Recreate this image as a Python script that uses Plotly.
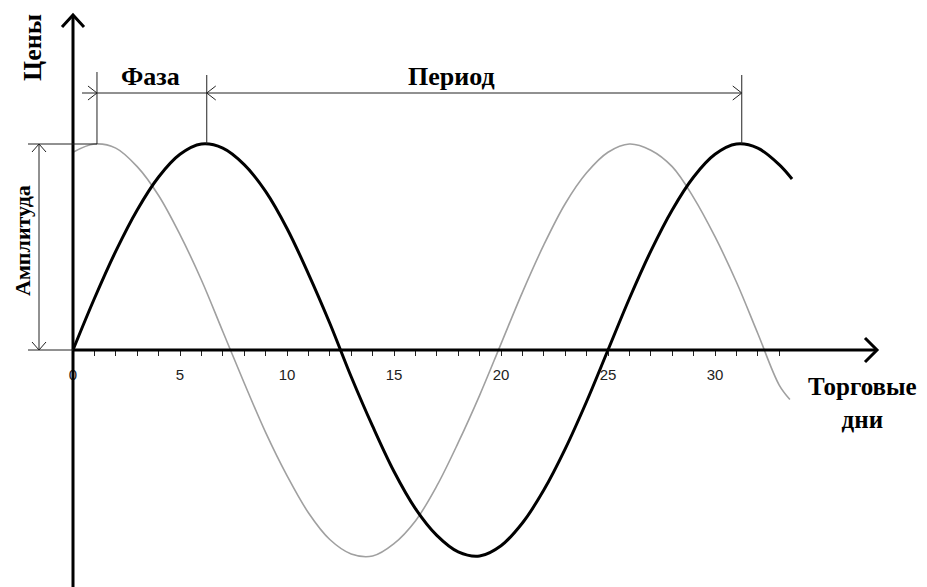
import plotly.graph_objects as go

# --- данные (амплитуда = 1) ---
days_main = list(range(34)) + [33.6]
price_main = [0.00, 0.25, 0.48, 0.68, 0.84, 0.95, 1.00, 0.98, 0.90, 0.77,
              0.59, 0.37, 0.13, -0.13, -0.37, -0.59, -0.77, -0.90, -0.98, -1.00,
              -0.95, -0.84, -0.68, -0.48, -0.25, 0.00, 0.25, 0.48, 0.68, 0.84,
              0.95, 1.00, 0.98, 0.90, 0.83]

days_shift = list(range(34)) + [33.5]
price_shift = [0.96, 1.00, 0.98, 0.89, 0.75, 0.56, 0.34, 0.09, -0.16, -0.40,
               -0.61, -0.79, -0.92, -0.99, -1.00, -0.94, -0.83, -0.66, -0.45, -0.22,
               0.03, 0.28, 0.51, 0.71, 0.86, 0.96, 1.00, 0.97, 0.89, 0.74,
               0.55, 0.33, 0.08, -0.17, -0.24]

tick_days = list(range(34))
tick_labels = [str(d) if d % 5 == 0 else '' for d in tick_days]

phase_start = 1.12   # вершина серой кривой
period_start = 6.25  # вершина чёрной кривой
period_end = 31.25   # следующая вершина
amplitude = 1.0

# --- геометрия картинки ---
W, H = 927, 587
PAGE = 8             # отступ body в странице
PX_DAY = 21.4        # пикселей на день
PX_UNIT = 206        # пикселей на единицу амплитуды
X0, Y0 = 73, 350     # начало координат в пикселях окна

X_RANGE = [-(X0 - PAGE) / PX_DAY, (W - X0 + PAGE) / PX_DAY]
Y_RANGE = [-(H - Y0 + PAGE) / PX_UNIT, (Y0 - PAGE) / PX_UNIT]


def dx(px):
    return (px - X0) / PX_DAY


def dy(py):
    return (Y0 - py) / PX_UNIT


fig = go.Figure()
fig.add_trace(go.Scatter(x=days_shift, y=price_shift, mode='lines',
                         line=dict(color='#a0a0a0', width=1.6, shape='spline'),
                         hoverinfo='skip'))
fig.add_trace(go.Scatter(x=days_main, y=price_main, mode='lines',
                         line=dict(color='black', width=3, shape='spline'),
                         hoverinfo='skip'))

shapes = []


def line(x0, y0, x1, y1, w=1, color='#222'):
    shapes.append(dict(type='line', xref='x', yref='y', x0=x0, y0=y0, x1=x1, y1=y1,
                       line=dict(color=color, width=w)))


def head(x, y, direction, back, half, w=1, color='#222'):
    paths = {
        'right': f'M {-back},{half} L 0,0 L {-back},{-half}',
        'left': f'M {back},{half} L 0,0 L {back},{-half}',
        'up': f'M {-half},{-back} L 0,0 L {half},{-back}',
        'down': f'M {-half},{back} L 0,0 L {half},{back}',
    }
    shapes.append(dict(type='path', xref='x', yref='y', xsizemode='pixel', ysizemode='pixel',
                       xanchor=x, yanchor=y, path=paths[direction],
                       line=dict(color=color, width=w)))


# оси
x_tip, y_tip = dx(877), dy(15)
line(0, 0, x_tip, 0, w=3, color='black')
line(0, Y_RANGE[0], 0, y_tip, w=3, color='black')
head(x_tip, 0, 'right', 12, 12, w=3, color='black')
head(0, y_tip, 'up', 12, 11, w=3, color='black')

# фаза и период
dim_y = dy(93)
line(phase_start, amplitude, phase_start, dy(72))
line(period_start, amplitude, period_start, dy(75))
line(period_end, amplitude, period_end, dy(75))
line(dx(82), dim_y, period_end, dim_y)
head(phase_start, dim_y, 'right', 9, 7)
head(period_start, dim_y, 'left', 9, 7)
head(period_end, dim_y, 'right', 9, 7)

# амплитуда
amp_x = dx(39)
line(dx(28), amplitude, phase_start, amplitude)
line(dx(28), 0, 0, 0)
line(amp_x, 0, amp_x, amplitude)
head(amp_x, amplitude, 'up', 8, 7)
head(amp_x, 0, 'down', 8, 7)


def serif(size):
    return dict(family='Liberation Serif', size=size, color='black')


annotations = [
    dict(x=dx(32), y=dy(48), text='<b>Цены</b>', textangle=-90, font=serif(26)),
    dict(x=dx(22), y=dy(241), text='<b>Амплитуда</b>', textangle=-90, font=serif(22)),
    dict(x=dx(150), y=dy(76), text='<b>Фаза</b>', font=serif(26)),
    dict(x=dx(451), y=dy(76), text='<b>Период</b>', font=serif(26)),
    dict(x=dx(862), y=dy(403), text='<b>Торговые<br>дни</b>', font=serif(25)),
]
for a in annotations:
    a.update(xref='x', yref='y', showarrow=False, borderpad=0)

fig.update_layout(
    width=W, height=H, autosize=False,
    margin=dict(l=0, r=0, t=0, b=0),
    paper_bgcolor='white', plot_bgcolor='white',
    showlegend=False,
    shapes=shapes, annotations=annotations,
    xaxis=dict(range=X_RANGE, anchor='free',
               position=-Y_RANGE[0] / (Y_RANGE[1] - Y_RANGE[0]),
               tickvals=tick_days, ticktext=tick_labels,
               ticks='outside', ticklen=5, tickwidth=1, tickcolor='#222',
               ticklabelstandoff=6,
               tickfont=dict(family='Liberation Sans', size=15, color='#222'),
               showgrid=False, zeroline=False, showline=False, automargin=False,
               fixedrange=True),
    yaxis=dict(range=Y_RANGE, visible=False, fixedrange=True),
)

fig.write_html("out.html")
